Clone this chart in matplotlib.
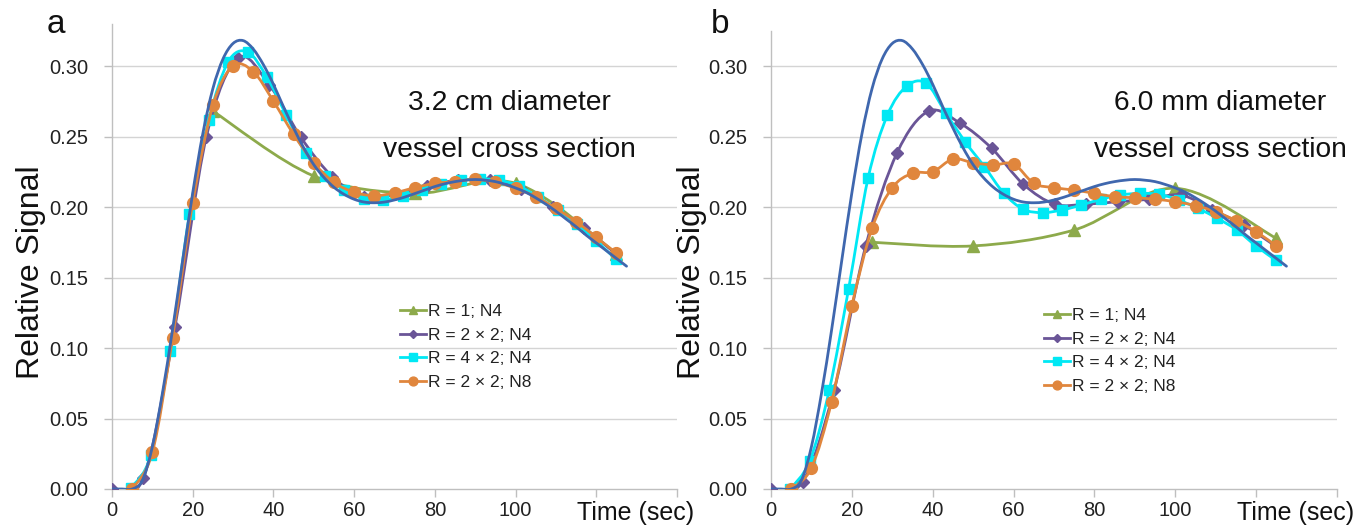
import numpy as np
import matplotlib
matplotlib.use("Agg")
import matplotlib.pyplot as plt
from matplotlib.lines import Line2D
from matplotlib.path import Path
from matplotlib.patches import PathPatch

plt.rcParams["font.family"] = ["Liberation Sans", "DejaVu Sans"]

W, H = 1369, 529

# ---- reference (true) signal, same in both panels ----
t_true = [0, 2.5, 5, 7.5, 10, 12.5, 15, 17.5, 20, 22.5, 25, 27.5, 30, 32.5, 35, 37.5,
          40, 42.5, 45, 47.5, 50, 52.5, 55, 57.5, 60, 62.5, 65, 67.5, 70, 72.5, 75,
          77.5, 80, 82.5, 85, 87.5, 90, 92.5, 95, 97.5, 100, 102.5, 105, 107.5, 110,
          112.5, 115, 117.5, 120, 122.5, 125, 127.5]
s_true = [0, 0, 0, 0.006, 0.03, 0.068, 0.113, 0.162, 0.21, 0.252, 0.284, 0.305, 0.316,
          0.318, 0.312, 0.301, 0.287, 0.271, 0.256, 0.242, 0.23, 0.221, 0.214, 0.209,
          0.2055, 0.2035, 0.203, 0.2035, 0.205, 0.207, 0.2095, 0.212, 0.2145, 0.2165,
          0.218, 0.219, 0.2195, 0.219, 0.218, 0.216, 0.2135, 0.2105, 0.2065, 0.202,
          0.197, 0.1915, 0.186, 0.18, 0.1745, 0.169, 0.1635, 0.158]

# ---- sampling times per acquisition ----
t_r1 = [25, 50, 75, 100, 125]
t_r22 = [0, 7.8, 15.6, 23.4, 31.2, 39, 46.8, 54.6, 62.4, 70.2, 78, 85.8, 93.6, 101.4,
         109.2, 117, 124.8]
t_r42 = [4.8, 9.6, 14.4, 19.2, 24, 28.8, 33.6, 38.4, 43.2, 48, 52.8, 57.6, 62.4, 67.2,
         72, 76.8, 81.6, 86.4, 91.2, 96, 100.8, 105.6, 110.4, 115.2, 120, 124.8]
t_n8 = [5, 10, 15, 20, 25, 30, 35, 40, 45, 50, 55, 60, 65, 70, 75, 80, 85, 90, 95, 100,
        105, 110, 115, 120, 125]

# ---- panel a: 3.2 cm vessel ----
a_r1 = [0.268, 0.222, 0.2097, 0.2168, 0.167]
a_r22 = [0, 0.008, 0.115, 0.25, 0.3055, 0.2865, 0.2494, 0.2215, 0.207, 0.209, 0.215,
         0.219, 0.219, 0.213, 0.2, 0.185, 0.167]
a_r42 = [0.001, 0.024, 0.098, 0.195, 0.262, 0.303, 0.31, 0.292, 0.265, 0.238, 0.222,
         0.212, 0.206, 0.205, 0.208, 0.212, 0.216, 0.219, 0.22, 0.219, 0.215, 0.207,
         0.198, 0.188, 0.176, 0.163]
a_n8 = [0, 0.026, 0.107, 0.203, 0.272, 0.3, 0.296, 0.275, 0.2515, 0.2314, 0.2175,
        0.2105, 0.208, 0.21, 0.2137, 0.2168, 0.218, 0.2196, 0.2175, 0.2133, 0.2073,
        0.199, 0.1896, 0.1785, 0.1672]

# ---- panel b: 6.0 mm vessel ----
b_r1 = [0.175, 0.1724, 0.1837, 0.2133, 0.1778]
b_r22 = [0, 0.005, 0.07, 0.172, 0.2385, 0.268, 0.2594, 0.2416, 0.2162, 0.202, 0.202,
         0.2038, 0.2055, 0.2085, 0.198, 0.187, 0.1723]
b_r42 = [0, 0.02, 0.07, 0.142, 0.2203, 0.2652, 0.2858, 0.2877, 0.2669, 0.2463, 0.2286,
         0.2097, 0.1984, 0.196, 0.1979, 0.2014, 0.2055, 0.2085, 0.2097, 0.209, 0.205,
         0.199, 0.192, 0.1837, 0.1723, 0.1624]
b_n8 = [0, 0.015, 0.062, 0.13, 0.1849, 0.2137, 0.2239, 0.225, 0.234, 0.2314, 0.2298,
        0.2305, 0.2168, 0.2137, 0.212, 0.2097, 0.2073, 0.2066, 0.2055, 0.2038, 0.201,
        0.1967, 0.1903, 0.1825, 0.1723]

labels = ["R = 1; N4", "R = 2 \u00d7 2; N4", "R = 4 \u00d7 2; N4", "R = 2 \u00d7 2; N8"]
colors = ["#8DAA4B", "#6A5597", "#00E8F4", "#E0863D"]
markers = ["^", "D", "s", "o"]
msizes = [8, 6, 7, 8.5]
C_TRUE = "#3F67AE"
GRID = "#D4D4D4"


def smooth(ax, x, y, color, lw, z):
    # Excel-like smoothed line: Catmull-Rom segments drawn as cubic Beziers
    p = np.column_stack([x, y]).astype(float)
    n = len(p)
    verts, codes = [p[0]], [Path.MOVETO]
    for i in range(n - 1):
        p0 = p[max(i - 1, 0)]
        p3 = p[min(i + 2, n - 1)]
        c1 = p[i] + (p[i + 1] - p0) / 6.0
        c2 = p[i + 1] - (p3 - p[i]) / 6.0
        verts += [c1, c2, p[i + 1]]
        codes += [Path.CURVE4] * 3
    ax.add_patch(PathPatch(Path(verts, codes), fill=False, edgecolor=color, lw=lw,
                           zorder=z, capstyle="round", joinstyle="round"))


fig = plt.figure(figsize=(W / 100, H / 100), dpi=100)

panels = [
    (112, 677, 0.33, [a_r1, a_r22, a_r42, a_n8], (509, ["3.2 cm diameter", "vessel cross section"]),
     (400, 304), "a", 47, 31),
    (771, 1337, 0.325, [b_r1, b_r22, b_r42, b_n8], (1220, ["6.0 mm diameter", "vessel cross section"]),
     (1044, 308), "b", 711, 692),
]
times = [t_r1, t_r22, t_r42, t_n8]

for x0, x1, ymax, series, (tx, tlines), (lx, ly), letter, letx, ylx in panels:
    bottom = 489
    top = bottom - ymax * 1410
    ax = fig.add_axes([x0 / W, (H - bottom) / H, (x1 - x0) / W, (bottom - top) / H])
    ax.set_xlim(0, 140)
    ax.set_ylim(0, ymax)
    for sp in ("top", "right"):
        ax.spines[sp].set_visible(False)
    for sp in ("left", "bottom"):
        ax.spines[sp].set_color("#BFBFBF")
        ax.spines[sp].set_linewidth(1.0)
    ax.set_xticks(np.arange(0, 141, 20))
    ax.set_xticklabels(["0", "20", "40", "60", "80", "100", "", ""])
    ax.set_yticks(np.arange(0, 0.31, 0.05))
    ax.set_yticklabels([f"{v:.2f}" for v in np.arange(0, 0.31, 0.05)])
    ax.tick_params(axis="both", colors="#BFBFBF", labelcolor="#222222", labelsize=14.5,
                   length=6, width=1.0, direction="out")
    ax.tick_params(axis="y", pad=11)
    ax.tick_params(axis="x", pad=3)
    for yv in np.arange(0.05, 0.31, 0.05):
        ax.axhline(yv, color=GRID, lw=1.0, zorder=0)

    handles = []
    for k, (tt, yy) in enumerate(zip(times, series)):
        smooth(ax, tt, yy, colors[k], 2.0, 3 + k)
        ax.plot(tt, yy, ls="none", marker=markers[k], ms=msizes[k], color=colors[k],
                mec=colors[k], zorder=3 + k)
        handles.append(Line2D([0], [0], color=colors[k], lw=2.0, marker=markers[k],
                              ms=msizes[k] * 0.75, label=labels[k]))
    smooth(ax, t_true, s_true, C_TRUE, 2.0, 8)

    leg = fig.legend(handles=handles, loc="upper left", bbox_to_anchor=(lx / W, 1 - ly / H),
                     frameon=False, fontsize=12.5, handlelength=1.5, handletextpad=0.1,
                     labelspacing=0.48, borderpad=0, borderaxespad=0)
    for t in leg.get_texts():
        t.set_color("#222222")

    fig.text(tx / W, 1 - 110 / H, tlines[0], fontsize=20.3, ha="center", va="baseline",
             color="#111111")
    fig.text(tx / W, 1 - 157 / H, tlines[1], fontsize=20.3, ha="center", va="baseline",
             color="#111111")
    fig.text((x1 - 100) / W, 1 - 513 / H, "Time (sec)", fontsize=18, ha="left",
             va="center", color="#111111")
    fig.text(ylx / W, 1 - 272 / H, "Relative Signal", fontsize=23, rotation=90,
             ha="center", va="center", color="#111111")
    fig.text(letx / W, 1 - 33 / H, letter, fontsize=24, ha="left", va="baseline",
             color="#111111")

fig.savefig("out.png", dpi=100)
